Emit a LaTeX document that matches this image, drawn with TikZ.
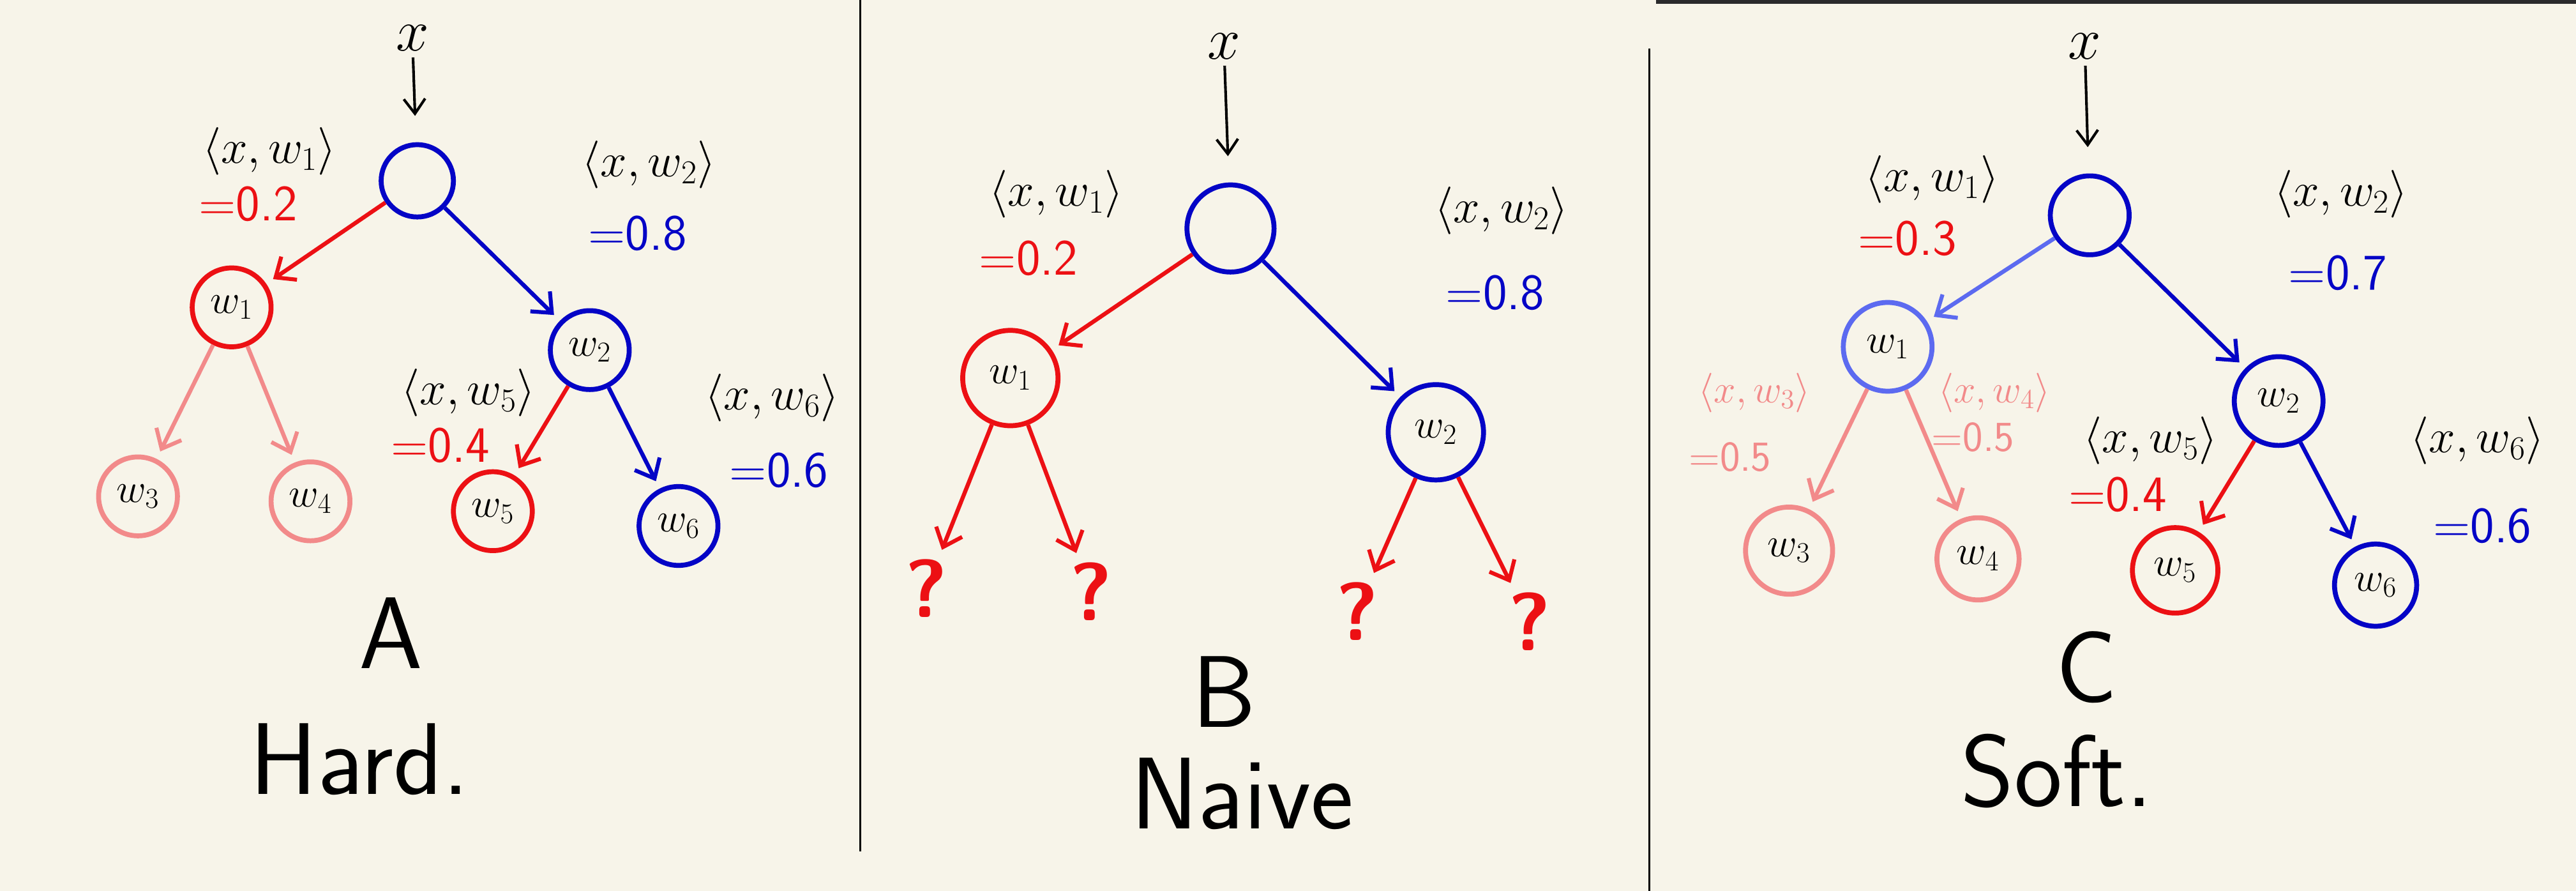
\RequirePackage{fix-cm}
\documentclass[tikz,border=0pt]{standalone}
\usetikzlibrary{arrows.meta}
\definecolor{paper}{RGB}{247,244,233}
\definecolor{inkred}{RGB}{236,16,20}
\definecolor{inkblue}{RGB}{4,4,198}
\definecolor{inkpink}{RGB}{242,138,138}
\definecolor{inklight}{RGB}{92,106,240}
\definecolor{barcol}{RGB}{42,42,44}
\tikzset{
  nd/.style={circle, draw, line width=3pt, minimum size=48pt, inner sep=0pt, font=\fontsize{25}{28}\selectfont},
  lbl/.style={font=\fontsize{29}{32}\selectfont},
  num/.style={font=\fontsize{31}{34}\selectfont\sffamily},
  sml/.style={font=\fontsize{24}{27}\selectfont},
  smn/.style={font=\fontsize{26}{28}\selectfont\sffamily},
  ttl/.style={font=\fontsize{62}{66}\selectfont\sffamily},
  qm/.style={text=inkred, font=\fontsize{50}{54}\selectfont\sffamily\bfseries},
  ed/.style={-{Straight Barb[length=10pt,width=17pt,line width=2.4pt]}, line width=2.5pt, shorten >=5pt},
  inp/.style={-{Straight Barb[length=9pt,width=13pt]}, line width=1.6pt, shorten <=3pt, shorten >=16pt},
}
\begin{document}
\begin{tikzpicture}[x=1pt, y=-1pt, every node/.style={inner sep=1pt}]
  \fill[paper] (0,0) rectangle (1568,542);
  \useasboundingbox (0,0) rectangle (1568,542);
  \draw[line width=1.1pt] (523.5,0) -- (523.5,518);
  \draw[line width=1.1pt] (1004,29.5) -- (1004,542);
  \fill[barcol] (1008,0) rectangle (1568,2.2);

  \node[lbl, font=\fontsize{36}{40}\selectfont] (xA) at (251,23) {$x$};
  \node[nd, inkblue, minimum size=44pt] (rootA) at (254,110) {};
  \node[nd, inkred] (w1A) at (141,187) {\color{black}$w_1$};
  \node[nd, inkblue] (w2A) at (359,213) {\color{black}$w_2$};
  \node[nd, inkpink] (w3A) at (84,302) {\color{black}$w_3$};
  \node[nd, inkpink] (w4A) at (189,305) {\color{black}$w_4$};
  \node[nd, inkred] (w5A) at (300,311) {\color{black}$w_5$};
  \node[nd, inkblue] (w6A) at (413,320) {\color{black}$w_6$};
  \node[lbl] (p1A) at (164,92) {$\langle x, w_1\rangle$};
  \node[num, text=inkred] (v1A) at (151,124) {=0.2};
  \node[lbl] (p2A) at (395,100) {$\langle x, w_2\rangle$};
  \node[num, text=inkblue] (v2A) at (388,142) {=0.8};
  \node[lbl] (p5A) at (285,239) {$\langle x, w_5\rangle$};
  \node[num, text=inkred] (v5A) at (268,271) {=0.4};
  \node[lbl] (p6A) at (470,242) {$\langle x, w_6\rangle$};
  \node[num, text=inkblue] (v6A) at (474,286) {=0.6};
  \node[ttl] (tA) at (238,385) {A};
  \node[ttl] (nA) at (219,462) {Hard.};
  \draw[inp] (xA) -- (rootA);
  \draw[ed, inkred] (rootA) -- (w1A);
  \draw[ed, inkblue] (rootA) -- (w2A);
  \draw[ed, inkpink] (w1A) -- (w3A);
  \draw[ed, inkpink] (w1A) -- (w4A);
  \draw[ed, inkred] (w2A) -- (w5A);
  \draw[ed, inkblue] (w2A) -- (w6A);

  \node[lbl, font=\fontsize{36}{40}\selectfont] (xB) at (745,28) {$x$};
  \node[nd, inkblue, minimum size=53pt] (rootB) at (749,139) {};
  \node[nd, inkred, minimum size=58pt] (w1B) at (615,230) {\color{black}$w_1$};
  \node[nd, inkblue, minimum size=58pt] (w2B) at (874,263) {\color{black}$w_2$};
  \node[qm] (q1B) at (564,358) {?};
  \node[qm] (q2B) at (664,360) {?};
  \node[qm] (q3B) at (826,372) {?};
  \node[qm] (q4B) at (931,378) {?};
  \node[lbl] (p1B) at (643,118) {$\langle x, w_1\rangle$};
  \node[num, text=inkred] (v1B) at (626,157) {=0.2};
  \node[lbl] (p2B) at (914,128) {$\langle x, w_2\rangle$};
  \node[num, text=inkblue] (v2B) at (910,178) {=0.8};
  \node[ttl] (tB) at (745,421) {B};
  \node[ttl] (nB) at (756,483) {Naive};
  \draw[inp] (xB) -- (rootB);
  \draw[ed, inkred] (rootB) -- (w1B);
  \draw[ed, inkblue] (rootB) -- (w2B);
  \draw[ed, inkred] (w1B) -- (q1B);
  \draw[ed, inkred] (w1B) -- (q2B);
  \draw[ed, inkred] (w2B) -- (q3B);
  \draw[ed, inkred] (w2B) -- (q4B);

  \node[lbl, font=\fontsize{36}{40}\selectfont] (xC) at (1269,28) {$x$};
  \node[nd, inkblue, minimum size=48pt] (rootC) at (1272,131) {};
  \node[nd, inklight, minimum size=54pt] (w1C) at (1149,211) {\color{black}$w_1$};
  \node[nd, inkblue, minimum size=54pt] (w2C) at (1387,244) {\color{black}$w_2$};
  \node[nd, inkpink, minimum size=53pt] (w3C) at (1089,335) {\color{black}$w_3$};
  \node[nd, inkpink, minimum size=50pt] (w4C) at (1204,340) {\color{black}$w_4$};
  \node[nd, inkred, minimum size=52pt] (w5C) at (1324,347) {\color{black}$w_5$};
  \node[nd, inkblue, minimum size=50pt] (w6C) at (1446,356) {\color{black}$w_6$};
  \node[lbl] (p1C) at (1176,109) {$\langle x, w_1\rangle$};
  \node[num, text=inkred] (v1C) at (1161,145) {=0.3};
  \node[lbl] (p2C) at (1425,118) {$\langle x, w_2\rangle$};
  \node[num, text=inkblue] (v2C) at (1423,166) {=0.7};
  \node[sml, text=inkpink] (p3C) at (1068,239) {$\langle x, w_3\rangle$};
  \node[smn, text=inkpink] (v3C) at (1053,278) {=0.5};
  \node[sml, text=inkpink] (p4C) at (1214,239) {$\langle x, w_4\rangle$};
  \node[smn, text=inkpink] (v4C) at (1201,266) {=0.5};
  \node[lbl] (p5C) at (1309,268) {$\langle x, w_5\rangle$};
  \node[num, text=inkred] (v5C) at (1289,301) {=0.4};
  \node[lbl] (p6C) at (1508,268) {$\langle x, w_6\rangle$};
  \node[num, text=inkblue] (v6C) at (1511,320) {=0.6};
  \node[ttl] (tC) at (1270,406) {C};
  \node[ttl] (nC) at (1252,469) {Soft.};
  \draw[inp] (xC) -- (rootC);
  \draw[ed, inklight] (rootC) -- (w1C);
  \draw[ed, inkblue] (rootC) -- (w2C);
  \draw[ed, inkpink] (w1C) -- (w3C);
  \draw[ed, inkpink] (w1C) -- (w4C);
  \draw[ed, inkred] (w2C) -- (w5C);
  \draw[ed, inkblue] (w2C) -- (w6C);
\end{tikzpicture}
\end{document}
